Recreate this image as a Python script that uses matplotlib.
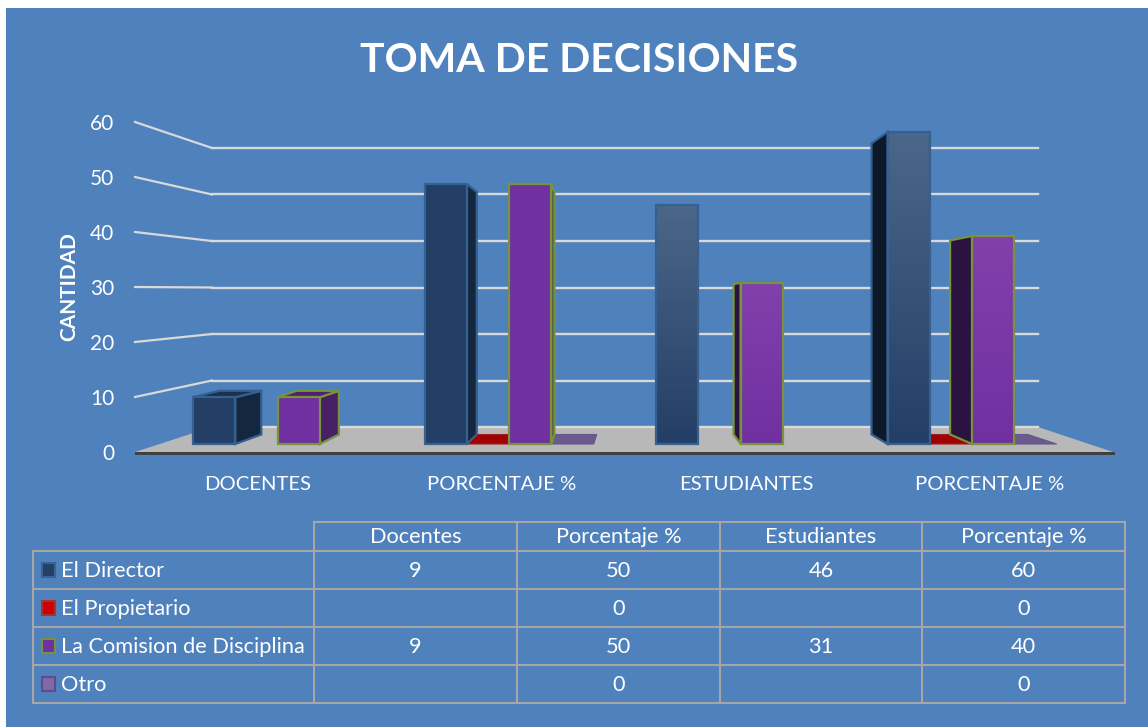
import numpy as np
import matplotlib
matplotlib.use('Agg')
from matplotlib import pyplot as plt
from matplotlib.patches import Polygon, Rectangle
from matplotlib.colors import LinearSegmentedColormap

plt.rcParams['font.family'] = ['Lato', 'DejaVu Sans']

W, H = 1148, 727

# data
axis_labels = ['DOCENTES', 'PORCENTAJE %', 'ESTUDIANTES', 'PORCENTAJE %']
col_labels = ['Docentes', 'Porcentaje %', 'Estudiantes', 'Porcentaje %']
series_names = ['El Director', 'El Propietario', 'La Comision de Disciplina', 'Otro']
director = [9, 50, 46, 60]
propietario = [None, 0, None, 0]
comision = [9, 50, 31, 40]
otro = [None, 0, None, 0]
y_ticks = [0, 10, 20, 30, 40, 50, 60]
series = [director, propietario, comision, otro]

# look of the fake 3d, one row per series, one value per category
depth_px = [[26, 10, 0, -16], [26, 7, 0, -15], [19, 3, -7, -22], [19, 3, -7, -29]]
front = ['#243F66', '#A00000', '#7030A0', '#6B5A8E']
top_col = ['#1A3150', '#A00000', '#4F2270', '#6B5A8E']
edge = ['#35608F', '#A02020', '#77933C', '#65568C']
side = [['#14273F', '#14273F', '#14273F', '#0D1928'], None,
        ['#471F63', '#471F63', '#2B1240', '#2B1240'], None]
grad_top = {0: '#4A6688', 2: '#8240AC'}
has_grad = [False, False, True, True]
swatch_face = ['#243F66', '#CC0000', '#7030A0', '#7F6AA8']
swatch_edge = ['#3A6394', '#B03030', '#77933C', '#5F4B8B']

BLUE = '#4F81BD'
GRID = '#D9D9D9'
LINE = '#A6A6A6'
TABLE_FS = 15.7
LABEL_FS = 14.6


def add_axes_px(left, right, top, bottom):
    a = fig.add_axes([left / W, 1 - bottom / H, (right - left) / W, (bottom - top) / H])
    a.patch.set_alpha(0)
    return a


fig = plt.figure(figsize=(W / 100, H / 100), dpi=100, facecolor='white')

# background, floor, side wall, table, all in pixel coords
bg = add_axes_px(0, W, 0, H)
bg.set_xlim(0, W)
bg.set_ylim(H, 0)
bg.axis('off')
bg.add_patch(Rectangle((6, 8), W - 6, H - 8, fc=BLUE, ec='none'))
bg.add_patch(Polygon([(135, 452), (212, 427), (1038, 427), (1113, 452)], fc='#B8B8B8', ec='none'))
bg.add_patch(Rectangle((135, 452), 980, 3, fc='#404040', ec='none'))
for v in y_ticks[1:]:
    bg.plot([135, 212], [452 - 5.5 * v, 427 - 4.65 * v], color=GRID, lw=1.6)

bg.text(579, 60, 'TOMA DE DECISIONES', color='white', fontsize=29.5, fontweight='bold', ha='center', va='center')
bg.text(69, 287, 'CANTIDAD', color='white', fontsize=15, fontweight='bold', rotation=90, ha='center', va='center')
for i, lab in enumerate(axis_labels):
    bg.text(258 + 244 * i, 484, lab, color='white', fontsize=LABEL_FS, ha='center', va='center')

# table
col_x = [314, 517, 720, 922, 1125]
row_y = [522, 551, 589, 627, 665, 703]
bg.plot([314, 1125], [row_y[0], row_y[0]], color=LINE, lw=1.5)
for y in row_y[1:]:
    bg.plot([33, 1125], [y, y], color=LINE, lw=1.5)
bg.plot([33, 33], [row_y[1], row_y[-1]], color=LINE, lw=1.5)
for x in col_x:
    bg.plot([x, x], [row_y[0], row_y[-1]], color=LINE, lw=1.5)
for i, lab in enumerate(col_labels):
    bg.text((col_x[i] + col_x[i + 1]) / 2, 537, lab, color='white', fontsize=TABLE_FS, ha='center', va='center')
for k, name in enumerate(series_names):
    yc = (row_y[k + 1] + row_y[k + 2]) / 2
    bg.add_patch(Rectangle((42, yc - 7), 13, 14, fc=swatch_face[k], ec=swatch_edge[k], lw=1.5))
    bg.text(61, yc + 1, name, color='white', fontsize=TABLE_FS, ha='left', va='center')
    for i, val in enumerate(series[k]):
        if val is not None:
            bg.text((col_x[i] + col_x[i + 1]) / 2, yc + 1, str(val), color='white', fontsize=TABLE_FS, ha='center', va='center')

# back wall with the gridlines
wall = add_axes_px(212, 1038, 148, 427)
wall.set_xlim(0, 1)
wall.set_ylim(0, 60)
wall.set_yticks(y_ticks)
wall.set_xticks([])
wall.tick_params(left=False, labelleft=False)
wall.grid(axis='y', color=GRID, lw=1.7, clip_on=False)
for s in wall.spines.values():
    s.set_visible(False)

# value axis on the left
left = add_axes_px(135, 136, 122, 452)
left.set_ylim(0, 60)
left.set_yticks(y_ticks)
left.set_xticks([])
left.tick_params(axis='y', length=0, pad=15, labelcolor='white', labelsize=15)
for s in left.spines.values():
    s.set_visible(False)

# bars, front plane: group centre 277.6px, one category = 231.5px, 0 at y=444, 60 at y=132
ax = add_axes_px(135, 1115, 132, 444)
xlim = ((135 - 277.6) / 231.5, (1115 - 277.6) / 231.5)
ax.axis('off')
bar_w = 42.3 / 231.5


def back_v(v):
    # value on the back face of a box, seen from the front plane
    return 1.83 + 0.933 * v


def draw_bar(i, k, v):
    x0 = i + (k - 2) * bar_w
    x1 = x0 + bar_w
    dx = depth_px[k][i] / 231.5
    if v == 0:
        ax.add_patch(Polygon([(x0, 0), (x1, 0), (x1 + dx, back_v(0)), (x0 + dx, back_v(0))],
                             fc=front[k], ec=edge[k], lw=0.8, zorder=2, clip_on=False))
        return
    z = 3 + i + k * 0.1
    lw = 1.6
    if dx != 0:
        xe = x1 if dx > 0 else x0
        ax.add_patch(Polygon([(xe, 0), (xe, v), (xe + dx, back_v(v)), (xe + dx, back_v(0))],
                             fc=side[k][i], ec=edge[k], lw=lw, zorder=z, clip_on=False))
    if back_v(v) > v:
        ax.add_patch(Polygon([(x0, v), (x1, v), (x1 + dx, back_v(v)), (x0 + dx, back_v(v))],
                             fc=top_col[k], ec=edge[k], lw=lw, zorder=z, clip_on=False))
    rect = Rectangle((x0, 0), bar_w, v, fc=front[k], ec='none', zorder=z + 0.01, clip_on=False)
    ax.add_patch(rect)
    if has_grad[i]:
        cmap = LinearSegmentedColormap.from_list('g', [front[k], grad_top[k]])
        ax.imshow(np.linspace(1, 0, 64).reshape(-1, 1), cmap=cmap, vmin=0, vmax=1, aspect='auto',
                  extent=(x0, x1, 0, v), zorder=z + 0.02, clip_on=False)
    ax.add_patch(Rectangle((x0, 0), bar_w, v, fc='none', ec=edge[k], lw=lw, zorder=z + 0.03, clip_on=False))


for i in range(4):
    for k in range(4):
        if series[k][i] is not None:
            draw_bar(i, k, series[k][i])

ax.set_xlim(*xlim)
ax.set_ylim(0, 60)

fig.savefig('out.png', dpi=100, facecolor='white')
